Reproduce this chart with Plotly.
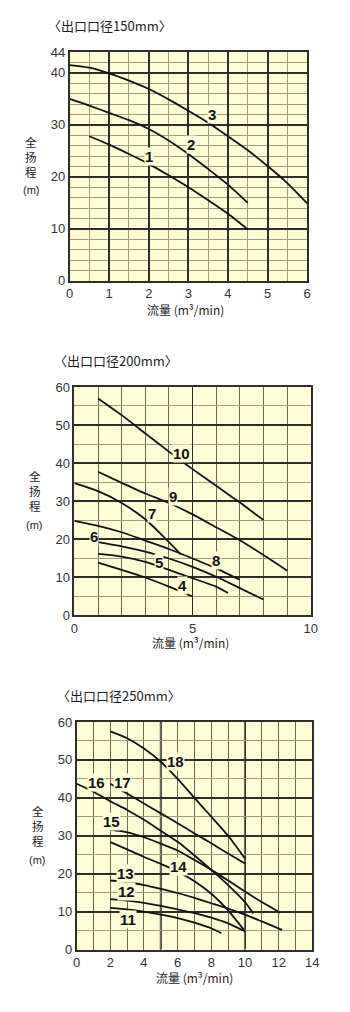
import plotly.graph_objects as go

W, H = 350, 1012

# ---------------- data: chart 1 (150mm) ----------------
c1_q = [0.5, 1, 1.5, 2, 2.5, 3, 3.5, 4, 4.5]
c1_h = [27.8, 26.2, 24.4, 22.5, 20.3, 18.0, 15.5, 12.9, 9.9]
c2_q = [0, 0.5, 1, 1.5, 2, 2.5, 3, 3.5, 4, 4.5]
c2_h = [35.0, 33.7, 32.3, 30.9, 29.2, 27.0, 24.4, 21.5, 18.5, 15.0]
c3_q = [0, 0.5, 1, 1.5, 2, 2.5, 3, 3.5, 4, 4.5, 5, 5.5, 6]
c3_h = [41.5, 41.0, 39.9, 38.5, 36.9, 34.9, 32.7, 30.4, 27.8, 25.1, 22.1, 18.8, 14.9]

# ---------------- data: chart 2 (200mm) ----------------
c4_q = [1, 2, 3, 4, 5]
c4_h = [13.8, 11.9, 9.9, 7.5, 4.9]
c5_q = [1, 2, 3, 4, 5, 6, 6.5]
c5_h = [16.1, 15.4, 14.0, 11.9, 9.7, 7.5, 5.8]
c6_q = [1, 2, 3, 4, 5, 6, 7, 8]
c6_h = [19.2, 18.1, 16.7, 14.9, 12.7, 10.1, 7.1, 4.1]
c7_q = [0, 1, 2, 3, 3.5, 4, 4.5]
c7_h = [34.7, 32.6, 29.5, 25.2, 22.3, 19.2, 16.0]
c8_q = [0, 1, 2, 3, 4, 5, 6, 7]
c8_h = [24.8, 23.5, 21.8, 19.6, 17.4, 14.9, 12.3, 9.3]
c9_q = [1, 2, 3, 4, 5, 6, 7, 8, 9]
c9_h = [37.7, 34.8, 32.0, 29.5, 26.5, 23.1, 19.7, 15.8, 11.7]
c10_q = [1, 2, 3, 4, 5, 6, 7, 8]
c10_h = [57.0, 52.6, 47.8, 43.0, 38.4, 34.0, 29.6, 25.0]

# ---------------- data: chart 3 (250mm) ----------------
c11_q = [2, 3, 4, 5, 6, 7, 8, 8.6]
c11_h = [11.0, 10.6, 10.0, 9.2, 8.3, 7.1, 5.6, 4.3]
c12_q = [2, 3, 4, 5, 6, 7, 8, 9, 10]
c12_h = [13.3, 12.9, 12.3, 11.5, 10.6, 9.6, 8.4, 6.9, 4.8]
c13_q = [2, 3, 4, 5, 6, 7, 8, 9, 10, 11, 12.2]
c13_h = [18.2, 17.8, 17.0, 16.0, 14.9, 13.6, 12.2, 10.8, 9.2, 7.4, 5.2]
c14_q = [2, 3, 4, 5, 6, 7, 8, 9, 10]
c14_h = [28.3, 26.4, 24.4, 22.6, 20.6, 18.0, 14.7, 10.3, 4.8]
c15_q = [2, 3, 4, 5, 6, 7, 8, 9, 10, 11, 12.1]
c15_h = [31.6, 30.9, 29.6, 27.9, 26.1, 23.6, 21.0, 18.2, 15.3, 12.5, 9.7]
c16_q = [0, 1, 2, 3, 4, 5, 6, 7, 8, 9, 10, 10.5]
c16_h = [43.7, 41.6, 39.1, 36.8, 34.2, 31.3, 28.4, 24.8, 21.0, 17.0, 12.5, 9.5]
c17_q = [2, 3, 4, 5, 6, 7, 8, 9, 10]
c17_h = [43.7, 41.1, 38.5, 35.9, 33.3, 30.6, 28.0, 25.3, 22.7]
c18_q = [2, 3, 4, 5, 6, 7, 8, 9, 10]
c18_h = [57.5, 55.7, 53.0, 49.5, 45.0, 40.0, 35.0, 30.0, 24.0]

# curve labels: (text, q, h)
labels1 = [("1", 2.01, 24.0), ("2", 3.06, 26.3), ("3", 3.6, 32.0)]
labels2 = [("4", 4.56, 7.9), ("5", 3.58, 13.8), ("6", 0.82, 20.7), ("7", 3.3, 26.8),
           ("8", 5.97, 14.4), ("9", 4.19, 31.2), ("10", 4.53, 42.5)]
labels3 = [("11", 3.07, 7.8), ("12", 2.97, 15.2), ("13", 2.88, 20.1), ("14", 6.04, 22.0),
           ("15", 2.1, 33.8), ("16", 1.15, 44.0), ("17", 2.74, 44.0), ("18", 5.85, 49.5)]

titles = ["〈出口口径150mm〉", "〈出口口径200mm〉", "〈出口口径250mm〉"]
y_title = "全<br>扬<br>程"
y_unit = "(m)"
x_title = "流量 (m³/min)"

thick_x3 = [5, 10]

BG = "#FDFDD6"
DARK = "#2f2f28"
MINOR = "#a39c7e"
CJK = "Noto Sans CJK SC"
SANS = "Liberation Sans, Arial"

fig = go.Figure()

def add_curves(curves, xa, ya):
    for q, h in curves:
        fig.add_trace(go.Scatter(x=q, y=h, mode="lines", xaxis=xa, yaxis=ya,
                                 line=dict(color="#111111", width=1.8, shape="spline", smoothing=0.6),
                                 showlegend=False, hoverinfo="skip"))

add_curves([(c1_q, c1_h), (c2_q, c2_h), (c3_q, c3_h)], "x", "y")
add_curves([(c4_q, c4_h), (c5_q, c5_h), (c6_q, c6_h), (c7_q, c7_h), (c8_q, c8_h),
            (c9_q, c9_h), (c10_q, c10_h)], "x2", "y2")
add_curves([(c11_q, c11_h), (c12_q, c12_h), (c13_q, c13_h), (c14_q, c14_h), (c15_q, c15_h),
            (c16_q, c16_h), (c17_q, c17_h), (c18_q, c18_h)], "x3", "y3")

def px_x(px):
    return px / W

def px_y(py):
    return 1 - py / H

tickfont = dict(family=SANS, size=13, color="#333333")

def axis(domain, rng, anchor, tickvals, major_grid, major_w, minor_dtick, minor_w=1, minor_color=MINOR):
    return dict(domain=domain, range=rng, anchor=anchor, tickvals=tickvals,
                showgrid=major_grid, gridcolor=DARK, gridwidth=major_w,
                minor=dict(dtick=minor_dtick, tick0=0, showgrid=True, gridcolor=minor_color, gridwidth=minor_w),
                zeroline=False, showline=True, mirror=True, linecolor=DARK, linewidth=1.5,
                ticks="", tickfont=tickfont, fixedrange=True)

# chart geometry (pixels)
g1 = dict(l=67.7, r=313.0, t=45.7, b=278.0)
g2 = dict(l=72.7, r=316.7, t=385.7, b=617.3)
g3 = dict(l=75.0, r=318.3, t=725.7, b=956.7)

fig.update_layout(
    width=W, height=H, margin=dict(l=0, r=0, t=0, b=0),
    paper_bgcolor="white", plot_bgcolor=BG, showlegend=False,
    xaxis=axis([px_x(g1["l"]), px_x(g1["r"])], [0, 6], "y", [0, 1, 2, 3, 4, 5, 6], True, 1.5, 0.5),
    yaxis=axis([px_y(g1["b"]), px_y(g1["t"])], [0, 44], "x", [0, 10, 20, 30, 40, 44], True, 1.8, 2),
    xaxis2=axis([px_x(g2["l"]), px_x(g2["r"])], [0, 10], "y2", [0, 5, 10], True, 1.3, 1, 1.3, "#6e6850"),
    yaxis2=axis([px_y(g2["b"]), px_y(g2["t"])], [0, 60], "x2", [0, 10, 20, 30, 40, 50, 60], True, 2, 5),
    xaxis3=axis([px_x(g3["l"]), px_x(g3["r"])], [0, 14], "y3", [0, 2, 4, 6, 8, 10, 12, 14], False, 1, 1, 1.2, "#6e6850"),
    yaxis3=axis([px_y(g3["b"]), px_y(g3["t"])], [0, 60], "x3", [0, 10, 20, 30, 40, 50, 60], True, 2, 5),
)

for xv in thick_x3:
    fig.add_shape(type="line", xref="x3", yref="y3", x0=xv, x1=xv, y0=0, y1=60,
                  line=dict(color=DARK, width=2), layer="below")

def add_labels(labels, xr, yr):
    for t, q, h in labels:
        fig.add_annotation(x=q, y=h, xref=xr, yref=yr, text="<b>%s</b>" % t, showarrow=False,
                           font=dict(family=SANS, size=15, color="#111111"),
                           bgcolor=BG, borderpad=0)

add_labels(labels1, "x", "y")
add_labels(labels2, "x2", "y2")
add_labels(labels3, "x3", "y3")

# titles and axis titles
title_pos = [(43, 19), (50, 358.7), (53, 698.7)]
ytitle_pos = [(28, 152, 186), (31.7, 491.7, 526), (35, 831.7, 866)]
xtitle_pos = [(187, 306.7), (192.5, 645), (197, 985)]

for t, (tx, ty) in zip(titles, title_pos):
    fig.add_annotation(x=px_x(tx), y=px_y(ty), xref="paper", yref="paper", text=t,
                       showarrow=False, xanchor="left", yanchor="middle",
                       font=dict(family=CJK, size=13, color="#222222"))

for (yx, yy, uy) in ytitle_pos:
    fig.add_annotation(x=px_x(yx), y=px_y(yy), xref="paper", yref="paper", text=y_title,
                       showarrow=False, xanchor="center", yanchor="middle",
                       font=dict(family=CJK, size=11.5, color="#222222"))
    fig.add_annotation(x=px_x(yx), y=px_y(uy), xref="paper", yref="paper", text=y_unit,
                       showarrow=False, xanchor="center", yanchor="middle",
                       font=dict(family=SANS, size=11, color="#222222"))

for (xx, xy) in xtitle_pos:
    fig.add_annotation(x=px_x(xx), y=px_y(xy), xref="paper", yref="paper", text=x_title,
                       showarrow=False, xanchor="center", yanchor="middle",
                       font=dict(family=CJK, size=12, color="#222222"))

fig.write_html("out.html")
